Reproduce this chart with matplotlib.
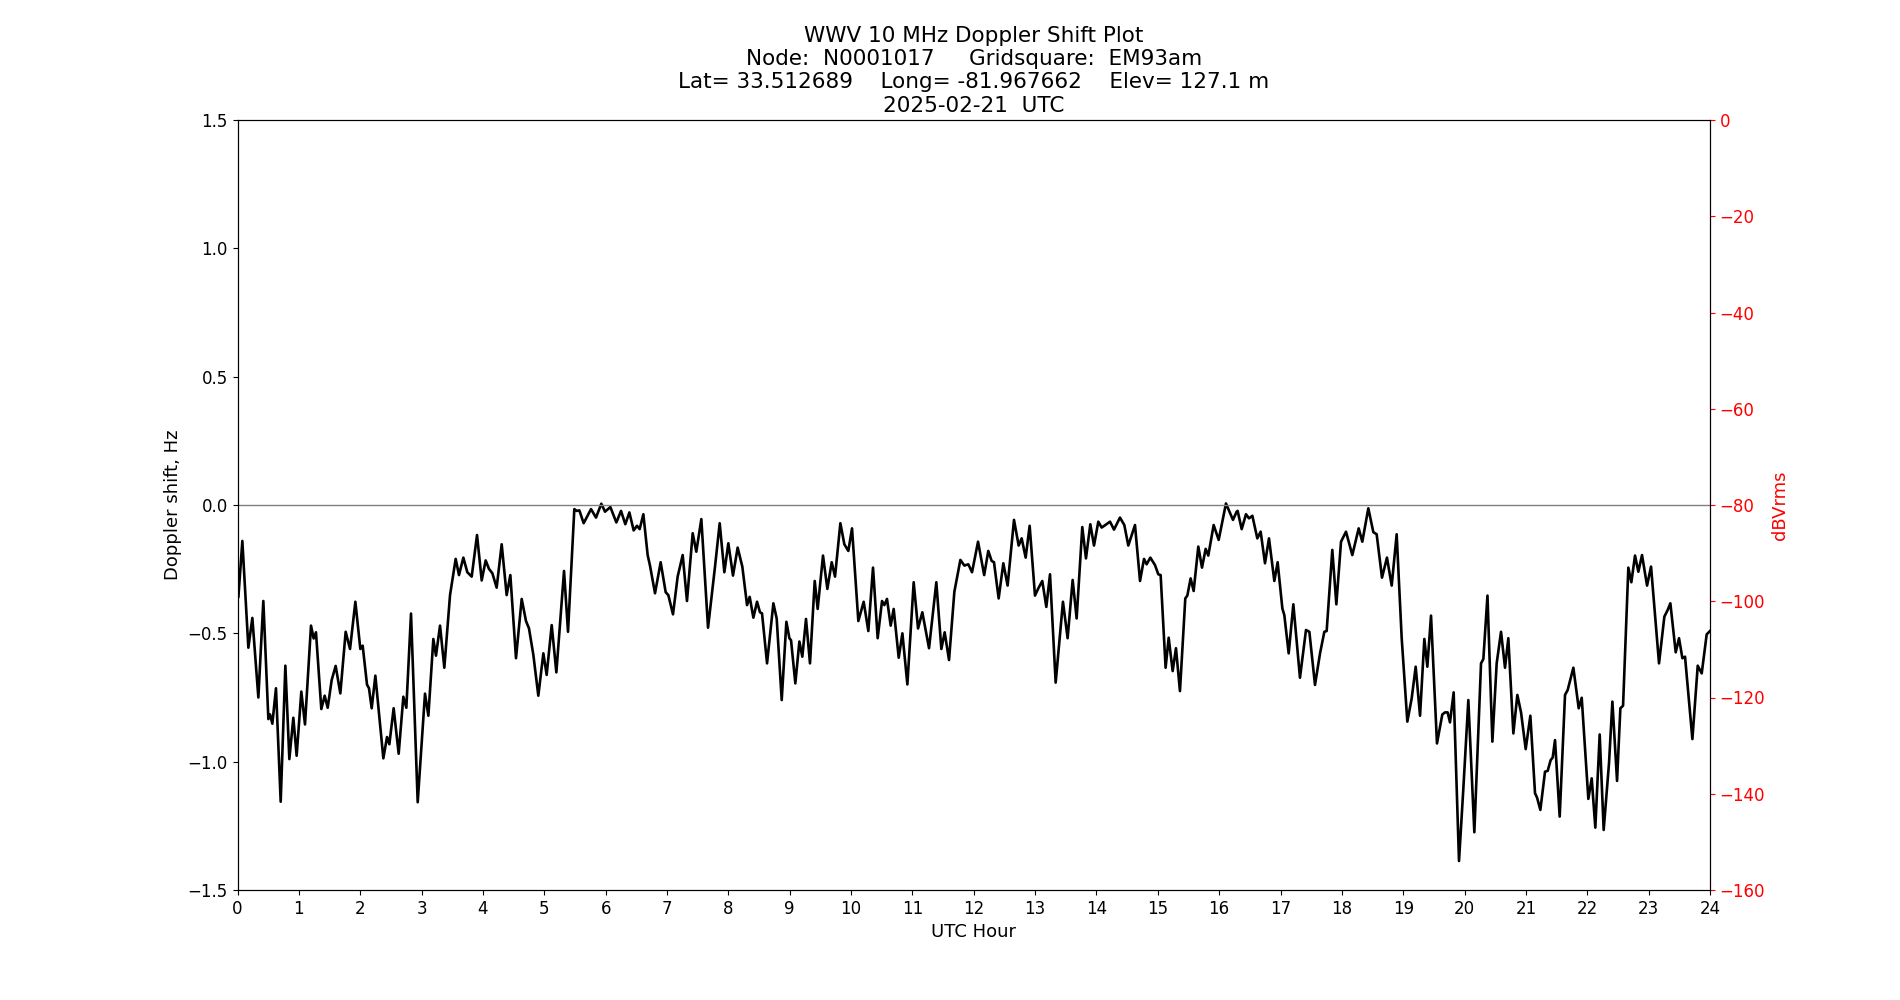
import matplotlib
matplotlib.use("Agg")
import matplotlib.pyplot as plt

hours = [
    0.0, 0.014, 0.079, 0.177, 0.242, 0.340, 0.421, 0.503, 0.530, 0.568, 0.627, 0.704, 0.780, 0.845,
    0.910, 0.964, 1.040, 1.100, 1.198, 1.241, 1.279, 1.366, 1.421, 1.470, 1.535, 1.600, 1.676,
    1.763, 1.834, 1.921, 2.002, 2.040, 2.111, 2.143, 2.187, 2.247, 2.377, 2.437, 2.475, 2.545,
    2.627, 2.703, 2.752, 2.828, 2.937, 3.056, 3.111, 3.192, 3.235, 3.301, 3.371, 3.464, 3.556,
    3.610, 3.681, 3.746, 3.817, 3.904, 3.980, 4.045, 4.099, 4.154, 4.224, 4.306, 4.387, 4.447,
    4.539, 4.632, 4.702, 4.751, 4.822, 4.903, 4.985, 5.039, 5.121, 5.197, 5.322, 5.387, 5.490,
    5.528, 5.572, 5.642, 5.762, 5.843, 5.930, 5.990, 6.077, 6.175, 6.251, 6.321, 6.387, 6.457,
    6.511, 6.555, 6.615, 6.685, 6.723, 6.805, 6.897, 6.979, 7.022, 7.098, 7.174, 7.256, 7.326,
    7.419, 7.478, 7.560, 7.669, 7.783, 7.859, 7.935, 8.000, 8.076, 8.152, 8.228, 8.305, 8.348,
    8.408, 8.468, 8.516, 8.549, 8.631, 8.734, 8.788, 8.870, 8.946, 8.995, 9.022, 9.092, 9.158,
    9.206, 9.266, 9.331, 9.408, 9.456, 9.543, 9.614, 9.685, 9.739, 9.826, 9.891, 9.956, 10.016,
    10.119, 10.206, 10.282, 10.358, 10.434, 10.505, 10.543, 10.586, 10.646, 10.695, 10.777,
    10.837, 10.918, 11.021, 11.092, 11.162, 11.271, 11.390, 11.472, 11.526, 11.597, 11.684,
    11.782, 11.847, 11.912, 11.972, 12.070, 12.170, 12.237, 12.292, 12.330, 12.406, 12.482,
    12.552, 12.656, 12.732, 12.781, 12.846, 12.911, 12.998, 13.052, 13.117, 13.183, 13.243,
    13.335, 13.454, 13.530, 13.612, 13.677, 13.769, 13.829, 13.900, 13.960, 14.030, 14.085,
    14.221, 14.286, 14.383, 14.454, 14.519, 14.628, 14.710, 14.775, 14.818, 14.878, 14.954,
    15.008, 15.046, 15.127, 15.177, 15.242, 15.296, 15.361, 15.448, 15.481, 15.535, 15.584,
    15.660, 15.720, 15.780, 15.823, 15.910, 15.992, 16.111, 16.225, 16.285, 16.301, 16.367,
    16.437, 16.486, 16.541, 16.622, 16.676, 16.747, 16.812, 16.899, 16.953, 17.030, 17.062,
    17.133, 17.209, 17.317, 17.415, 17.470, 17.562, 17.644, 17.714, 17.752, 17.844, 17.910,
    17.986, 18.067, 18.170, 18.274, 18.333, 18.431, 18.513, 18.567, 18.654, 18.735, 18.812,
    18.893, 18.975, 19.067, 19.138, 19.203, 19.274, 19.344, 19.393, 19.453, 19.550, 19.637,
    19.681, 19.724, 19.762, 19.822, 19.909, 19.980, 20.061, 20.159, 20.268, 20.306, 20.373,
    20.453, 20.523, 20.594, 20.659, 20.713, 20.795, 20.860, 20.920, 20.996, 21.072, 21.148,
    21.181, 21.235, 21.311, 21.354, 21.403, 21.436, 21.474, 21.550, 21.637, 21.680, 21.773,
    21.860, 21.909, 22.017, 22.072, 22.131, 22.202, 22.267, 22.354, 22.409, 22.485, 22.539,
    22.583, 22.669, 22.718, 22.778, 22.832, 22.892, 22.974, 23.039, 23.169, 23.256, 23.310,
    23.354, 23.441, 23.495, 23.550, 23.593, 23.713, 23.800, 23.865, 23.946, 24.000,
]

doppler_hz = [
    -0.36, -0.36, -0.14, -0.556, -0.44, -0.75, -0.374, -0.834, -0.816, -0.852, -0.714, -1.156,
    -0.626, -0.99, -0.829, -0.977, -0.727, -0.855, -0.47, -0.52, -0.496, -0.795, -0.743, -0.79,
    -0.682, -0.627, -0.734, -0.494, -0.561, -0.377, -0.561, -0.548, -0.70, -0.714, -0.792,
    -0.665, -0.987, -0.904, -0.932, -0.792, -0.969, -0.747, -0.79, -0.423, -1.158, -0.735,
    -0.821, -0.522, -0.587, -0.47, -0.634, -0.351, -0.21, -0.273, -0.205, -0.262, -0.279,
    -0.117, -0.294, -0.216, -0.249, -0.266, -0.322, -0.153, -0.351, -0.273, -0.597, -0.366,
    -0.452, -0.481, -0.584, -0.743, -0.578, -0.662, -0.468, -0.652, -0.257, -0.494, -0.016,
    -0.023, -0.021, -0.071, -0.016, -0.049, 0.005, -0.026, -0.008, -0.068, -0.023, -0.075,
    -0.029, -0.099, -0.081, -0.094, -0.036, -0.195, -0.236, -0.344, -0.223, -0.34, -0.351,
    -0.426, -0.279, -0.195, -0.374, -0.11, -0.182, -0.055, -0.478, -0.24, -0.071, -0.262,
    -0.149, -0.275, -0.166, -0.24, -0.39, -0.358, -0.439, -0.377, -0.418, -0.422, -0.617,
    -0.383, -0.442, -0.76, -0.455, -0.519, -0.527, -0.695, -0.532, -0.591, -0.444, -0.617,
    -0.296, -0.405, -0.197, -0.327, -0.223, -0.279, -0.071, -0.153, -0.179, -0.091, -0.452,
    -0.377, -0.491, -0.244, -0.519, -0.374, -0.39, -0.366, -0.47, -0.405, -0.595, -0.5,
    -0.699, -0.301, -0.481, -0.418, -0.558, -0.301, -0.561, -0.496, -0.604, -0.338, -0.214,
    -0.236, -0.231, -0.262, -0.143, -0.273, -0.179, -0.218, -0.223, -0.364, -0.227, -0.314,
    -0.058, -0.158, -0.13, -0.205, -0.081, -0.353, -0.325, -0.296, -0.397, -0.27, -0.692,
    -0.377, -0.519, -0.292, -0.442, -0.086, -0.208, -0.075, -0.158, -0.065, -0.088, -0.065,
    -0.096, -0.049, -0.078, -0.158, -0.078, -0.296, -0.21, -0.231, -0.205, -0.234, -0.27,
    -0.273, -0.634, -0.517, -0.647, -0.558, -0.725, -0.364, -0.353, -0.286, -0.335, -0.162,
    -0.244, -0.171, -0.197, -0.078, -0.136, 0.006, -0.058, -0.026, -0.023, -0.094, -0.036,
    -0.052, -0.042, -0.13, -0.104, -0.227, -0.13, -0.296, -0.223, -0.403, -0.429, -0.578,
    -0.387, -0.673, -0.487, -0.494, -0.701, -0.578, -0.494, -0.491, -0.175, -0.387, -0.143,
    -0.104, -0.195, -0.091, -0.143, -0.013, -0.106, -0.114, -0.283, -0.205, -0.314, -0.114,
    -0.519, -0.844, -0.753, -0.63, -0.821, -0.522, -0.63, -0.431, -0.929, -0.816, -0.808,
    -0.808, -0.847, -0.73, -1.387, -1.104, -0.76, -1.275, -0.617, -0.6, -0.353, -0.922,
    -0.617, -0.494, -0.634, -0.519, -0.89, -0.74, -0.808, -0.951, -0.821, -1.123, -1.14,
    -1.188, -1.039, -1.036, -0.994, -0.984, -0.916, -1.214, -0.74, -0.721, -0.634, -0.792,
    -0.751, -1.145, -1.065, -1.257, -0.894, -1.266, -1.006, -0.766, -1.075, -0.792, -0.782,
    -0.244, -0.301, -0.197, -0.26, -0.195, -0.314, -0.24, -0.617, -0.435, -0.409, -0.383,
    -0.574, -0.519, -0.597, -0.591, -0.912, -0.626, -0.656, -0.504, -0.491,
]

x_ticks = list(range(0, 25))
y_ticks = [-1.5, -1.0, -0.5, 0.0, 0.5, 1.0, 1.5]
db_ticks = [-160, -140, -120, -100, -80, -60, -40, -20, 0]

title_lines = [
    "WWV 10 MHz Doppler Shift Plot",
    "Node:  N0001017     Gridsquare:  EM93am",
    "Lat= 33.512689    Long= -81.967662    Elev= 127.1 m",
    "2025-02-21  UTC",
]

fig, ax = plt.subplots(figsize=(19, 10), dpi=100)
ax.plot(hours, doppler_hz, color="black", linewidth=1.9, solid_joinstyle="round")
ax.axhline(0, color="gray", linewidth=1)
ax.set_xlim(0, 24)
ax.set_ylim(-1.5, 1.5)
ax.set_xticks(x_ticks)
ax.set_yticks(y_ticks)
ax.tick_params(labelsize=12)
ax.set_xlabel("UTC Hour", fontsize=13)
ax.set_ylabel("Doppler shift, Hz", fontsize=13)
ax.set_title("\n".join(title_lines), fontsize=15.5)

ax2 = ax.twinx()
ax2.set_ylim(-160, 0)
ax2.set_yticks(db_ticks)
ax2.tick_params(axis="y", labelsize=12, colors="red")
ax2.set_ylabel("dBVrms", fontsize=13, color="red")

fig.savefig("out.png", dpi=100)
